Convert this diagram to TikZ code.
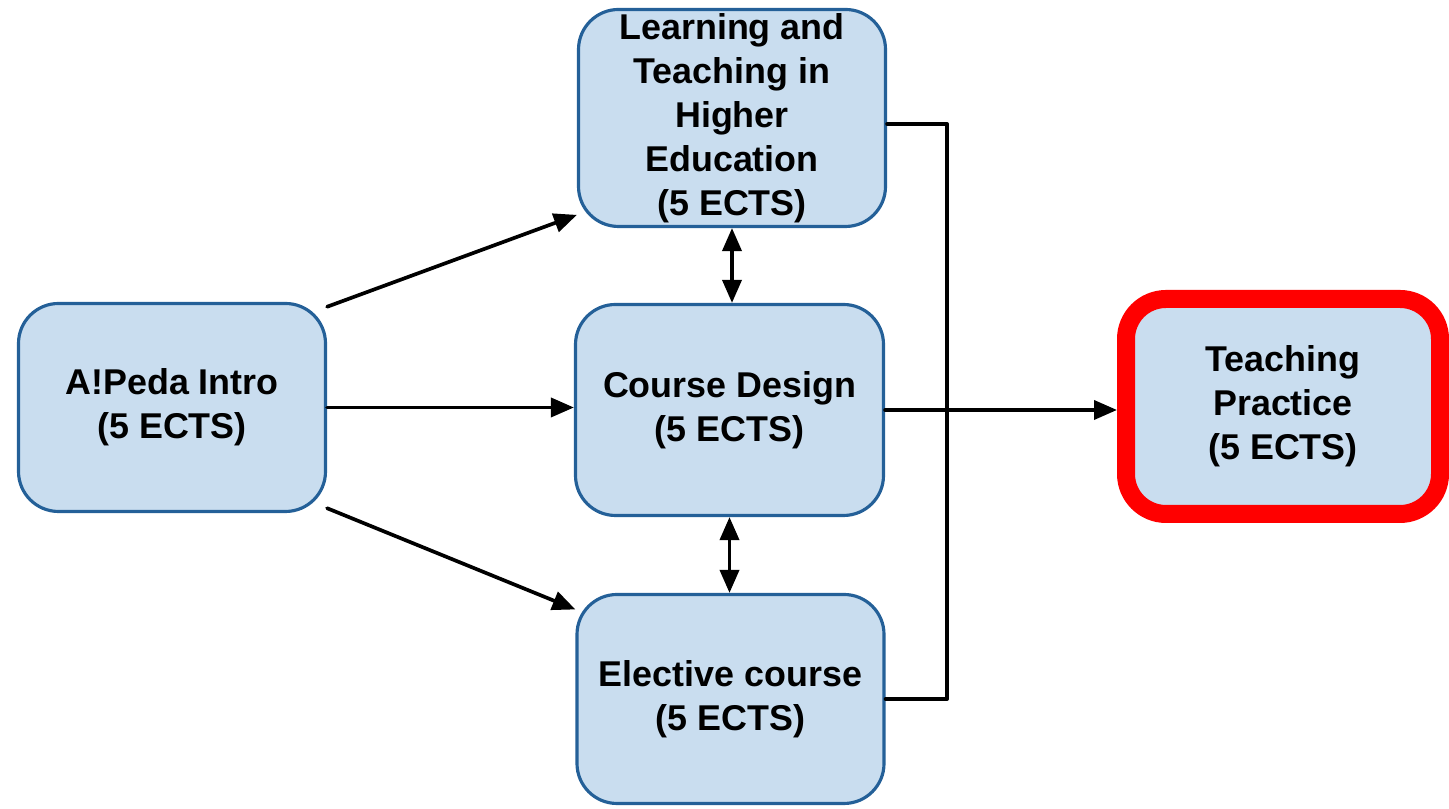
\documentclass[tikz,border=0pt]{standalone}
\usepackage{fontspec}
\setmainfont{Liberation Sans}
\usetikzlibrary{arrows.meta}
\definecolor{boxfill}{RGB}{201,221,239}
\definecolor{boxline}{RGB}{36,96,152}
\begin{document}
\begin{tikzpicture}[scale=1,>={Triangle[length=2.3mm,width=1.9mm]}, line join=round, line cap=round,
	font=\fontsize{10.2}{12.5}\selectfont\bfseries,
	course/.style={draw=boxline, line width=0.9pt, fill=boxfill, rounded corners=0.4cm, align=center, inner sep=0pt, minimum width=3.07cm},
	link/.style={line width=1.05pt}]
			\useasboundingbox (0,0) rectangle (14.49,8.09);
			\node[course, minimum height=2.08cm] (intro) at (1.72,4.015) {A!Peda Intro\\(5 ECTS)};
			\node[course, minimum height=2.17cm] (lthe) at (7.32,6.91) {Learning and\\Teaching in\\Higher\\Education\\(5 ECTS)};
			\node[course, minimum height=2.11cm, minimum width=3.08cm] (design) at (7.295,3.99) {Course Design\\(5 ECTS)};
			\node[course, minimum height=2.09cm] (elective) at (7.305,1.10) {Elective course\\(5 ECTS)};
			\node[course, draw=red, line width=0.18cm, minimum width=3.14cm, minimum height=2.15cm] (practice) at (12.83,4.025) {Teaching\\Practice\\(5 ECTS)};
			% Verbindungen
			\draw[link,->] (intro.33)--(lthe.212);
			\draw[link,->] (intro.east)--(intro.east -| design.west);
			\draw[link,->] (intro.-33)--(elective.150);
			\draw[link,<->] (lthe.south)--(lthe.south |- design.north);
			\draw[link,<->] (design.south)--(design.south |- elective.north);
			\draw[link] ([yshift=-0.06cm]lthe.east)--++(0.6,0) |- (elective.east);
			\draw[link,->] (design.east)--(design.east -| practice.west);
			\end{tikzpicture}
\end{document}
